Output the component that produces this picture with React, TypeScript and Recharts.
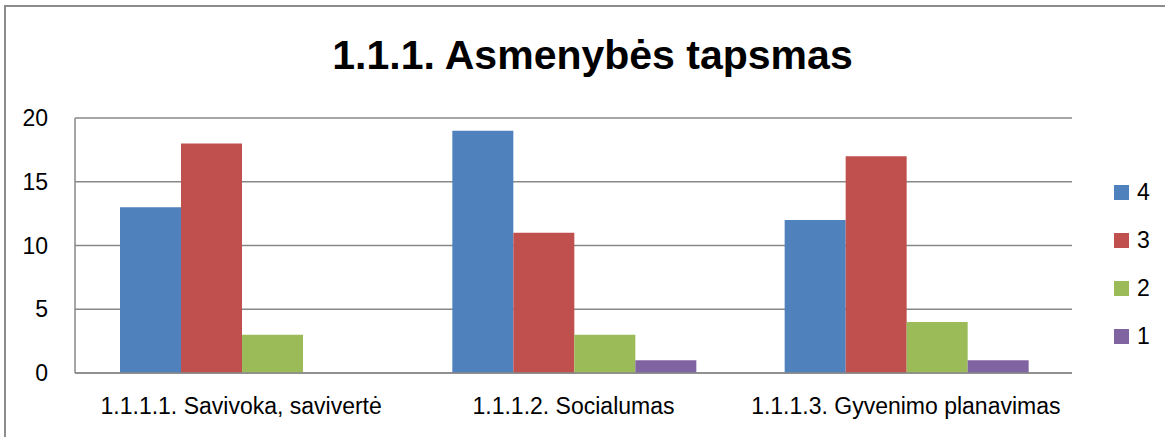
import React from 'react';
import { BarChart, Bar, XAxis, YAxis, CartesianGrid } from 'recharts';

const categories = ['1.1.1.1. Savivoka, savivertė', '1.1.1.2. Socialumas', '1.1.1.3. Gyvenimo planavimas'];
const score4 = [13, 19, 12];
const score3 = [18, 11, 17];
const score2 = [3, 3, 4];
const score1 = [0, 1, 1];
const yTicks = [0, 5, 10, 15, 20];

const SERIES = [
  { key: 'v4', name: '4', color: '#4F81BD' },
  { key: 'v3', name: '3', color: '#C0504D' },
  { key: 'v2', name: '2', color: '#9BBB59' },
  { key: 'v1', name: '1', color: '#8064A2' },
];

const data = categories.map((cat, i) => ({
  cat,
  v4: score4[i],
  v3: score3[i],
  v2: score2[i],
  v1: score1[i],
}));

const FONT = '"Liberation Sans", Arial, sans-serif';

function LegendBox() {
  return (
    <div style={{ position: 'absolute', left: 1114, top: 168, fontFamily: FONT, fontSize: 23, color: '#000' }}>
      {SERIES.map((s) => (
        <div key={s.key} style={{ display: 'flex', alignItems: 'center', height: 48 }}>
          <span style={{ display: 'inline-block', width: 15, height: 15, background: s.color, marginRight: 8 }} />
          <span>{s.name}</span>
        </div>
      ))}
    </div>
  );
}

export default function App() {
  return (
    <div style={{ position: 'fixed', left: 0, top: 0, width: 1165, height: 437, background: '#fff', overflow: 'hidden' }}>
      <div style={{ position: 'absolute', left: 4, top: 5, width: 1300, height: 600, borderLeft: '2px solid #8c8c8c', borderTop: '2px solid #8c8c8c' }} />
      <div style={{ position: 'absolute', left: 0, top: 32, width: 1185, textAlign: 'center', fontFamily: FONT, fontWeight: 'bold', fontSize: 41, color: '#000' }}>
        1.1.1. Asmenybės tapsmas
      </div>
      <div style={{ position: 'absolute', left: 0, top: 0 }}>
        <BarChart width={1165} height={437} data={data} margin={{ top: 118, right: 93, bottom: 0, left: 0 }} barCategoryGap={45} barGap={0}>
          <CartesianGrid vertical={false} stroke="#888" strokeWidth={1.5} />
          <XAxis dataKey="cat" height={64} axisLine={{ stroke: '#888', strokeWidth: 1.5 }} tickLine={false} tickSize={0} tickMargin={25} tick={{ fontSize: 23, fill: '#000', fontFamily: FONT }} interval={0} />
          <YAxis width={75} domain={[0, 20]} ticks={yTicks} axisLine={{ stroke: '#888', strokeWidth: 1.5 }} tickLine={false} tickSize={0} tickMargin={27} tick={{ fontSize: 23, fill: '#000', fontFamily: FONT }} />
          {SERIES.map((s) => (
            <Bar key={s.key} dataKey={s.key} name={s.name} fill={s.color} isAnimationActive={false} />
          ))}
        </BarChart>
      </div>
      <LegendBox />
    </div>
  );
}
